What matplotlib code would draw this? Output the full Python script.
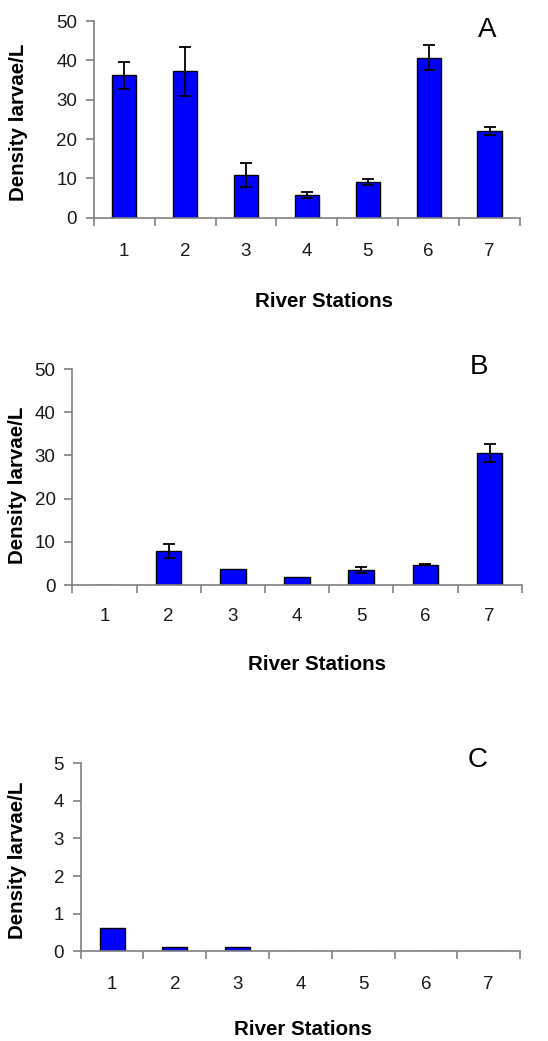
import numpy as np
import matplotlib
matplotlib.use('Agg')
import matplotlib.pyplot as plt

plt.rcParams['font.family'] = ['Liberation Sans', 'DejaVu Sans']

stations = ['1', '2', '3', '4', '5', '6', '7']

# panel A
dens_a = [36.2, 37.2, 10.9, 5.7, 9.15, 40.7, 22.0]
err_a = [3.5, 6.3, 3.0, 0.8, 0.8, 3.1, 1.0]
# panel B
dens_b = [0.0, 7.95, 3.8, 1.8, 3.4, 4.7, 30.6]
err_b = [0.0, 1.6, 0.0, 0.0, 0.7, 0.1, 2.1]
# panel C
dens_c = [0.62, 0.115, 0.115, 0.0, 0.0, 0.0, 0.0]
err_c = [0, 0, 0, 0, 0, 0, 0]

panels = [
    ('A', dens_a, err_a, 50, [0, 10, 20, 30, 40, 50]),
    ('B', dens_b, err_b, 50, [0, 10, 20, 30, 40, 50]),
    ('C', dens_c, err_c, 5, [0, 1, 2, 3, 4, 5]),
]

# axes boxes [left, bottom, width, height] in figure fractions
boxes = [
    [0.171, 0.7909, 0.778, 0.1889],
    [0.132, 0.4380, 0.820, 0.2075],
    [0.1473, 0.0862, 0.8017, 0.1806],
]
ylab_pos = [(-0.153, 0.484), (-0.100, 0.463), (-0.123, 0.483)]
xlab_pos = [(0.54, -0.378), (0.544, -0.324), (0.506, -0.365)]
letter_pos = [(0.922, 0.955), (0.906, 1.01), (0.904, 1.02)]
xpad = [18, 16.5, 18]

grey = '#808080'

fig = plt.figure(figsize=(5.48, 10.41), dpi=100)
for i, (tag, dens, err, ymax, yt) in enumerate(panels):
    ax = fig.add_axes(boxes[i])
    x = np.arange(len(stations))
    ax.bar(x, dens, width=0.4, color='#0000ff', edgecolor='black', linewidth=1.0, zorder=2)
    e = np.array(err)
    m = e > 0
    ax.errorbar(x[m], np.array(dens)[m], yerr=e[m], fmt='none', ecolor='black',
                elinewidth=1.3, capsize=4, capthick=1.3, zorder=3)
    ax.set_xlim(-0.5, 6.5)
    ax.set_ylim(0, ymax)
    ax.set_yticks(yt)
    ax.set_xticks(x)
    ax.set_xticklabels(stations)
    ax.set_xticks(np.arange(-0.5, 7.0, 1.0), minor=True)
    ax.tick_params(axis='x', which='major', length=0, pad=xpad[i], labelsize=13.5, colors='#1a1a1a')
    ax.tick_params(axis='x', which='minor', length=6, width=1.2, color=grey, direction='out')
    ax.tick_params(axis='y', length=6, width=1.2, color=grey, labelsize=13.5, labelcolor='#1a1a1a', pad=6)
    for s in ['top', 'right']:
        ax.spines[s].set_visible(False)
    for s in ['left', 'bottom']:
        ax.spines[s].set_color(grey)
        ax.spines[s].set_linewidth(1.2)
    ax.set_ylabel('Density larvae/L', fontsize=14.8, fontweight='bold')
    ax.yaxis.set_label_coords(*ylab_pos[i])
    ax.set_xlabel('River Stations', fontsize=14.8, fontweight='bold')
    ax.xaxis.set_label_coords(*xlab_pos[i])
    ax.text(letter_pos[i][0], letter_pos[i][1], tag, transform=ax.transAxes,
            fontsize=20, ha='center', va='center')

fig.savefig('out.png', dpi=100)
